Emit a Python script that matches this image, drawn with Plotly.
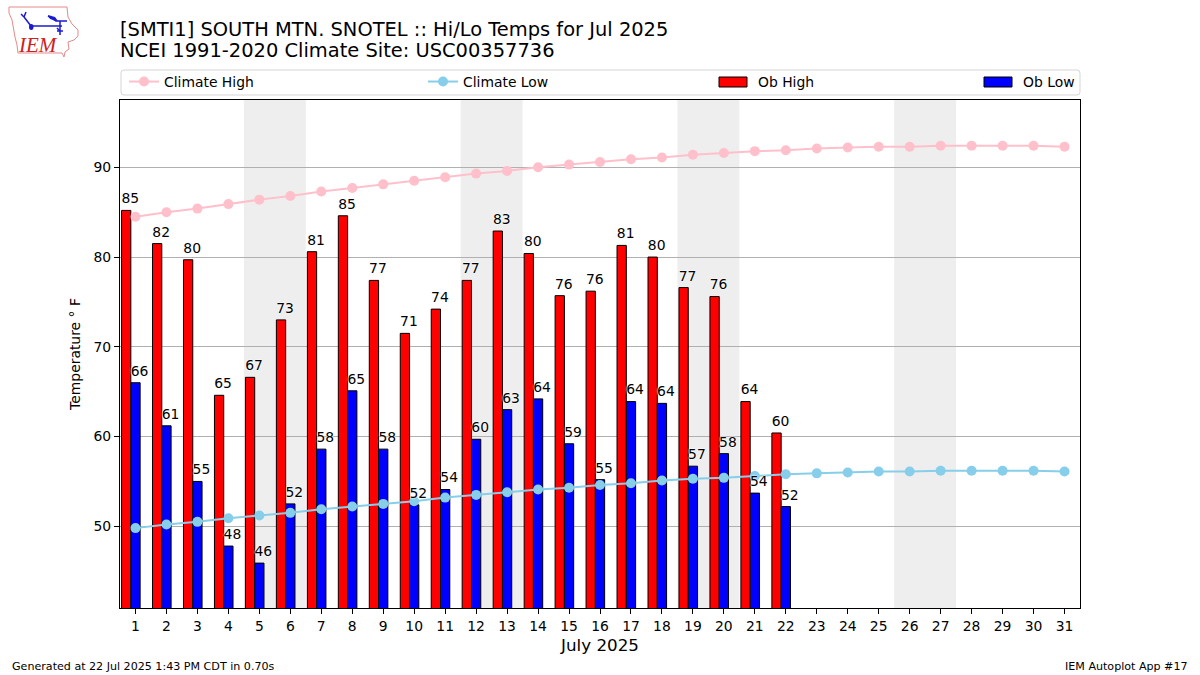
import plotly.graph_objects as go

days = list(range(1, 32))
obs_days = days[:22]
weekend_starts = [5, 12, 19, 26]
ob_high = [85.2, 81.5, 79.7, 64.6, 66.6, 73.0, 80.6, 84.6, 77.4, 71.5, 74.2, 77.4, 82.9, 80.4, 75.7, 76.2, 81.3, 80.0, 76.6, 75.6, 63.9, 60.4]
ob_low = [66.0, 61.2, 55.0, 47.8, 45.9, 52.5, 58.6, 65.1, 58.6, 52.4, 54.1, 59.7, 63.0, 64.2, 59.2, 55.2, 63.9, 63.7, 56.7, 58.1, 53.7, 52.2]
high_labels = [85, 82, 80, 65, 67, 73, 81, 85, 77, 71, 74, 77, 83, 80, 76, 76, 81, 80, 77, 76, 64, 60]
low_labels = [66, 61, 55, 48, 46, 52, 58, 65, 58, 52, 54, 60, 63, 64, 59, 55, 64, 64, 57, 58, 54, 52]
climate_high = [84.5, 85.0, 85.4, 85.9, 86.4, 86.8, 87.3, 87.7, 88.1, 88.5, 88.9, 89.3, 89.6, 90.0, 90.3, 90.6, 90.9, 91.1, 91.4, 91.6, 91.8, 91.9, 92.1, 92.2, 92.3, 92.3, 92.4, 92.4, 92.4, 92.4, 92.3]
climate_low = [49.8, 50.2, 50.5, 50.9, 51.2, 51.5, 51.9, 52.2, 52.5, 52.8, 53.2, 53.5, 53.8, 54.1, 54.3, 54.6, 54.8, 55.1, 55.3, 55.4, 55.6, 55.8, 55.9, 56.0, 56.1, 56.1, 56.2, 56.2, 56.2, 56.2, 56.1]

FONT = "DejaVu Sans"
W, H = 1200, 675
L, R, T, B = 120, 1080, 100, 608
LABEL_LIFT = 0.4


def px(x):
    return (x - L) / (R - L)


def py(y):
    return (B - y) / (B - T)


def path(points, close=False):
    d = "M" + "L".join(f"{px(x):.5f},{py(y):.5f}" for x, y in points)
    return d + ("Z" if close else "")


fig = go.Figure()
fig.add_bar(x=obs_days, y=ob_high, width=0.3, offset=-0.45, name="Ob High", showlegend=False,
            marker=dict(color="#ff0000", line=dict(color="black", width=1)))
fig.add_bar(x=obs_days, y=ob_low, width=0.3, offset=-0.15, name="Ob Low", showlegend=False,
            marker=dict(color="#0000ff", line=dict(color="black", width=1)))
fig.add_scatter(x=days, y=climate_high, mode="lines+markers", name="Climate High", legend="legend",
                line=dict(color="#ffc0cb", width=2), marker=dict(color="#ffc0cb", size=10))
fig.add_scatter(x=days, y=climate_low, mode="lines+markers", name="Climate Low", legend="legend2",
                line=dict(color="#87ceeb", width=2), marker=dict(color="#87ceeb", size=10))
halo = "0 0 2px white, 0 0 2px white"
fig.add_scatter(x=[d - 0.17 for d in obs_days], y=[v + LABEL_LIFT for v in ob_high], mode="text",
                text=[str(v) for v in high_labels],
                textposition="top center", showlegend=False, hoverinfo="skip",
                textfont=dict(family=FONT, size=13.9, color="black", shadow=halo))
fig.add_scatter(x=[d + 0.13 for d in obs_days], y=[v + LABEL_LIFT for v in ob_low], mode="text",
                text=[str(v) for v in low_labels],
                textposition="top center", showlegend=False, hoverinfo="skip",
                textfont=dict(family=FONT, size=13.9, color="black", shadow=halo))

shapes = []
for s in weekend_starts:
    shapes.append(dict(type="rect", xref="x", yref="paper", x0=s - 0.5, x1=s + 1.5, y0=0, y1=1,
                       fillcolor="#eeeeee", line=dict(width=0), layer="below"))
# legend frame
x0, x1, y0, y1 = px(121), px(1080), py(95), py(70)
rx, ry = 3 / (R - L), 3 / (B - T)
shapes.append(dict(type="path", xref="paper", yref="paper",
                   path=f"M{x0+rx},{y0}L{x1-rx},{y0}Q{x1},{y0} {x1},{y0+ry}L{x1},{y1-ry}Q{x1},{y1} {x1-rx},{y1}"
                        f"L{x0+rx},{y1}Q{x0},{y1} {x0},{y1-ry}L{x0},{y0+ry}Q{x0},{y0} {x0+rx},{y0}Z",
                   line=dict(color="#d5d5d5", width=1), fillcolor="white"))
# bar swatches
for sx, col in [(719, "#ff0000"), (984, "#0000ff")]:
    shapes.append(dict(type="rect", xref="paper", yref="paper", x0=px(sx), x1=px(sx + 28), y0=py(87), y1=py(77),
                       fillcolor=col, line=dict(color="black", width=1)))
# logo: state outline + station symbol
outline = [(9, 7), (67, 7), (68, 17), (72, 24), (78, 30), (78, 36), (74, 40), (68, 42), (69, 49),
           (65, 52), (64, 57), (62, 53), (18, 53), (17, 45), (15, 37), (12, 20), (9, 13)]
shapes.append(dict(type="path", xref="paper", yref="paper", path=path(outline, True),
                   line=dict(color="#e58a8a", width=1)))
logo_segments = [
    [(31, 26), (62, 26)], [(31, 26), (24, 17)], [(24, 17), (21, 14)], [(24, 17), (26, 12)],
    [(60, 21), (60, 35)], [(48, 16), (56, 21), (67, 21)], [(57, 31), (63, 31)], [(57, 28), (60, 31)],
]
for seg in logo_segments:
    shapes.append(dict(type="path", xref="paper", yref="paper", path=path(seg),
                       line=dict(color="#1a1ad0", width=1.5)))
shapes.append(dict(type="circle", xref="paper", yref="paper", x0=px(29), x1=px(33.5), y0=py(30), y1=py(24),
                   fillcolor="#1a1ad0", line=dict(width=0)))
shapes.append(dict(type="path", xref="paper", yref="paper", path=path([(48, 15), (55, 17), (58, 21), (50, 19)], True),
                   fillcolor="#1a1ad0", line=dict(width=0)))

annotations = [
    dict(text="<i>IEM</i>", x=px(37.5), y=py(45.5), xref="paper", yref="paper", showarrow=False,
         xanchor="center", yanchor="middle",
         font=dict(family="Liberation Serif", size=21, color="#cc2222")),
    dict(text="NCEI 1991-2020 Climate Site: USC00357736", x=px(119), y=py(50.5), xref="paper", yref="paper",
         xanchor="left", yanchor="middle", showarrow=False, borderpad=0,
         font=dict(family=FONT, size=19.44, color="black")),
    dict(text="Ob High", x=px(756), y=py(82), xref="paper", yref="paper", xanchor="left", yanchor="middle",
         showarrow=False, font=dict(family=FONT, size=13.9, color="black")),
    dict(text="Ob Low", x=px(1021), y=py(82), xref="paper", yref="paper", xanchor="left", yanchor="middle",
         showarrow=False, font=dict(family=FONT, size=13.9, color="black")),
    dict(text="Generated at 22 Jul 2025 1:43 PM CDT in 0.70s", x=px(10), y=py(666), xref="paper", yref="paper",
         xanchor="left", yanchor="middle", showarrow=False, font=dict(family=FONT, size=11.1, color="black")),
    dict(text="IEM Autoplot App #17", x=px(1190), y=py(666), xref="paper", yref="paper",
         xanchor="right", yanchor="middle", showarrow=False, font=dict(family=FONT, size=11.1, color="black")),
]

legend_style = dict(orientation="v", bgcolor="rgba(0,0,0,0)", borderwidth=0, itemwidth=30,
                    xanchor="left", yanchor="middle", y=py(82),
                    font=dict(family=FONT, size=13.9, color="black"), itemclick=False, itemdoubleclick=False)

fig.update_layout(
    width=W, height=H, autosize=False, template=None, showlegend=True,
    paper_bgcolor="white", plot_bgcolor="white", barmode="overlay",
    margin=dict(l=L, r=W - R, t=T, b=H - B, pad=0),
    font=dict(family=FONT, size=13.9, color="black"),
    title=dict(text="[SMTI1] SOUTH MTN. SNOTEL :: Hi/Lo Temps for Jul 2025",
               x=120 / W, xref="container", xanchor="left", y=1 - 29 / H, yanchor="middle",
               font=dict(family=FONT, size=19.44, color="black")),
    xaxis=dict(range=[0.5, 31.5], tickmode="array", tickvals=days, ticktext=[str(d) for d in days],
               ticks="outside", ticklen=5, tickwidth=1, tickcolor="black", showgrid=False, zeroline=False,
               showline=True, linecolor="black", linewidth=1, mirror=True,
               tickfont=dict(family=FONT, size=13.9),
               title=dict(text="July 2025", font=dict(family=FONT, size=16.7), standoff=6)),
    yaxis=dict(range=[40.9, 97.5], tickmode="array", tickvals=[50, 60, 70, 80, 90],
               ticks="outside", ticklen=5, tickwidth=1, tickcolor="black", showgrid=True, gridcolor="#b0b0b0",
               gridwidth=1, zeroline=False, showline=True, linecolor="black", linewidth=1, mirror=True,
               tickfont=dict(family=FONT, size=13.9),
               title=dict(text="Temperature ° F", font=dict(family=FONT, size=13.9), standoff=9)),
    shapes=shapes, annotations=annotations,
    legend=dict(x=px(124), **legend_style),
    legend2=dict(x=px(423), **legend_style),
    hovermode=False,
)
fig.write_html("out.html", post_script="document.body.style.margin='0';", config=dict(displayModeBar=False))
